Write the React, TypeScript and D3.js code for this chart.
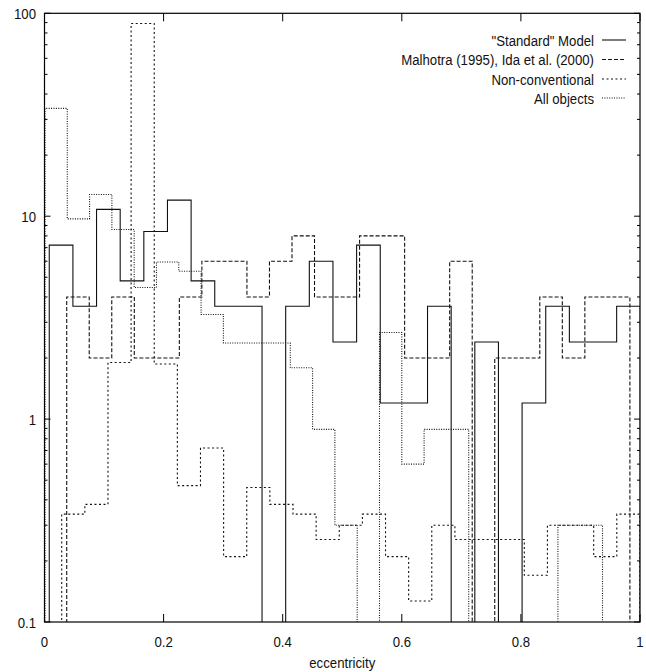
import React from "react";
import * as d3 from "d3";

const W = 646;
const H = 672;
const PL = 44.5, PR = 640, PT = 13.3, PB = 622;

const xTicks = [0, 0.2, 0.4, 0.6, 0.8, 1];
const xTickLabels = ["0", "0.2", "0.4", "0.6", "0.8", "1"];
const yTicks = [0.1, 1, 10, 100];
const yTickLabels = ["0.1", "1", "10", "100"];

const seriesNames = [
  '"Standard" Model',
  "Malhotra (1995), Ida et al. (2000)",
  "Non-conventional",
  "All objects",
];
// first bin edge and bin width (eccentricity units) for each series
const binStarts = [0.008, 0.0373, 0.0289, 0.0008];
const binWidths = [0.0397, 0.03783, 0.03884, 0.03745];

const standardValues = [7.2, 3.6, 10.8, 4.8, 8.4, 12, 4.8, 3.6, 3.6, 0, 3.6, 6, 2.4, 7.2, 1.2, 1.2, 3.6, 0, 2.4, 0, 1.2, 3.6, 2.4, 2.4, 3.6];
const malhotraValues = [4, 2, 4, 2, 2, 4, 6, 6, 4, 6, 8, 4, 4, 8, 8, 2, 2, 6, 0, 2, 2, 4, 2, 4, 4];
const nonConvValues = [0.34, 0.38, 1.9, 89, 1.87, 0.47, 0.72, 0.21, 0.46, 0.38, 0.34, 0.255, 0.3, 0.34, 0.21, 0.127, 0.3, 0.255, 0.255, 0.255, 0.17, 0.3, 0.3, 0.21, 0.34];
const allObjectsValues = [34, 9.7, 12.8, 8.6, 4.45, 5.95, 5.35, 3.28, 2.37, 2.37, 2.37, 1.79, 0.89, 0.3, 0, 2.67, 0.6, 0.89, 0.89, 0, 0, 0, 0, 0.3, 0.3];

const seriesValues = [standardValues, malhotraValues, nonConvValues, allObjectsValues];
const dashes = ["none", "4,2", "2,2.5", "1,1.4"];

const FONT = "'Liberation Sans', Arial, Helvetica, sans-serif";

export default function App() {
  const x = d3.scaleLinear().domain([0, 1]).range([PL, PR]);
  const y = d3.scaleLog().domain([0.1, 100]).range([PB, PT]);
  const floor = 0.05;

  const line = d3
    .line<[number, number]>()
    .x((d) => x(d[0]))
    .y((d) => y(Math.max(d[1], floor)))
    .curve(d3.curveStepAfter);

  const paths = seriesValues.map((vals, s) => {
    const pts: [number, number][] = [];
    const e0 = binStarts[s];
    pts.push([e0, floor]);
    vals.forEach((v, i) => pts.push([e0 + i * binWidths[s], v]));
    const eN = e0 + vals.length * binWidths[s];
    pts.push([eN, vals[vals.length - 1]]);
    pts.push([eN, floor]);
    return line(pts) || "";
  });

  const minor: number[] = [];
  for (let d = 0.1; d < 100; d *= 10) {
    for (let k = 2; k <= 9; k++) minor.push(+(d * k).toPrecision(3));
  }

  const legendY = [40, 59.5, 79, 98];

  return (
    <svg width={W} height={H} style={{ display: "block", position: "absolute", left: 0, top: 0, background: "#fff" }}>
      <defs>
        <clipPath id="plotclip">
          <rect x={PL} y={PT} width={PR - PL} height={PB - PT} />
        </clipPath>
      </defs>
      <rect x={0} y={0} width={W} height={H} fill="#fff" />
      {/* histograms */}
      <g clipPath="url(#plotclip)" fill="none">
        {paths.map((p, i) => (
          <path key={i} d={p} stroke="#111" strokeWidth={1.1} strokeDasharray={dashes[i]} />
        ))}
      </g>
      {/* ticks */}
      <g stroke="#000" strokeWidth={1}>
        {xTicks.map((t, i) => (
          <g key={"xt" + i}>
            <line x1={x(t)} x2={x(t)} y1={PB} y2={PB - 8} />
            <line x1={x(t)} x2={x(t)} y1={PT} y2={PT + 8} />
          </g>
        ))}
        {yTicks.map((t, i) => (
          <g key={"yt" + i}>
            <line x1={PL} x2={PL + 6} y1={y(t)} y2={y(t)} />
            <line x1={PR} x2={PR - 6} y1={y(t)} y2={y(t)} />
          </g>
        ))}
        {minor.map((t, i) => (
          <g key={"ym" + i}>
            <line x1={PL} x2={PL + 3} y1={y(t)} y2={y(t)} />
            <line x1={PR} x2={PR - 3} y1={y(t)} y2={y(t)} />
          </g>
        ))}
      </g>
      <rect x={PL} y={PT} width={PR - PL} height={PB - PT} fill="none" stroke="#000" strokeWidth={1.2} />
      {/* tick labels */}
      <g fontFamily={FONT} fontSize={15} fill="#111">
        {yTicks.map((t, i) => (
          <text key={"yl" + i} textAnchor="end" transform={`translate(36,${y(t) + 5.5}) scale(0.88,1)`}>
            {yTickLabels[i]}
          </text>
        ))}
        {xTicks.map((t, i) => (
          <text key={"xl" + i} textAnchor="middle" transform={`translate(${x(t)},647) scale(0.88,1)`}>
            {xTickLabels[i]}
          </text>
        ))}
        <text textAnchor="middle" transform={`translate(${x(0.5)},668) scale(0.88,1)`}>eccentricity</text>
        {seriesNames.map((n, i) => (
          <text key={"lg" + i} textAnchor="end" transform={`translate(594,${legendY[i] + 5.5}) scale(0.88,1)`}>
            {n}
          </text>
        ))}
      </g>
      <g>
        {seriesNames.map((n, i) => (
          <line key={"ls" + i} x1={602} x2={626} y1={legendY[i]} y2={legendY[i]} stroke="#111" strokeWidth={1.1} strokeDasharray={dashes[i]} />
        ))}
      </g>
    </svg>
  );
}
